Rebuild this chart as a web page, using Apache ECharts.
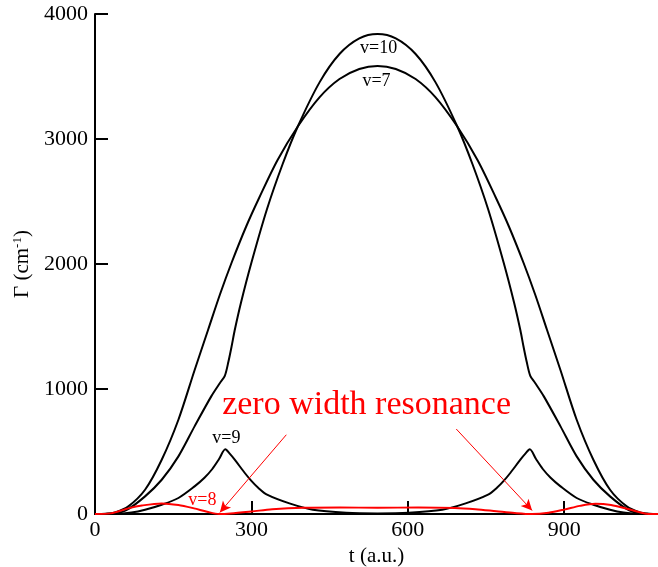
<!DOCTYPE html>
<html>
<head>
<meta charset="utf-8">
<script src="https://cdn.jsdelivr.net/npm/echarts@6/dist/echarts.min.js"></script>
<style>
html,body{margin:0;padding:0;background:#fff;}
#chart{width:658px;height:567px;}
</style>
</head>
<body>
<div id="chart"></div>
<script>
// ---- data: [t (a.u.), Gamma (cm-1)] ----
const xTicks = [0, 300, 600, 900];
const yTicks = [0, 1000, 2000, 3000, 4000];

const v7 = [[0,0],[20,2],[40,15],[64,61],[96,194],[128,434],[160,754],[191,1150],[217,1474],[240,1760],[262,2010],[290,2300],[315,2530],[350,2830],[389,3100],[431,3335],[469,3480],[507,3560],[542,3585],
  [577,3560],[615,3480],[653,3335],[695,3100],[734,2830],[769,2530],[794,2300],[822,2010],[844,1760],[867,1474],[893,1150],[924,754],[956,434],[988,194],[1020,61],[1044,15],[1064,2],[1080,0]];

const v10 = [[0,0],[20,1],[38,4],[60,30],[96,141],[128,274],[160,461],[191,701],[223,941],[240,1050],[249,1105],[256,1220],[262,1340],[268,1470],[280,1690],[300,2010],[330,2440],[360,2800],[389,3100],[431,3455],[469,3680],[507,3805],[542,3840],
  [577,3805],[615,3680],[653,3455],[695,3100],[724,2800],[754,2440],[784,2010],[804,1690],[816,1470],[822,1340],[828,1220],[835,1105],[844,1050],[861,941],[893,701],[924,461],[956,274],[988,141],[1024,30],[1046,4],[1064,1],[1080,0]];

const v9 = [[0,0],[38,1],[70,12],[96,34],[128,74],[160,128],[191,221],[210,290],[225,360],[238,440],[250,518],[258,485],[268,435],[287,330],[300,265],[313,210],[330,155],[373,85],[418,34],[482,10],[542,5],
  [602,10],[666,34],[711,85],[754,155],[771,210],[784,265],[797,330],[816,435],[826,485],[834,518],[846,440],[859,360],[874,290],[893,221],[924,128],[956,74],[988,34],[1014,12],[1046,1],[1080,0]];

const v8 = [[0,0],[30,5],[64,45],[90,68],[128,85],[160,72],[190,45],[215,18],[238,0],[260,4],[300,20],[340,38],[400,50],[470,52],[542,50],[620,52],[690,48],[730,38],[770,22],[805,8],[838,0],[870,10],[900,35],[930,65],[960,82],[990,72],[1020,42],[1045,14],[1062,0],[1080,0]];

const FONT = 'Liberation Serif';
const chart = echarts.init(document.getElementById('chart'), null, {renderer:'canvas'});

function curve(name, data, color){
  return {
    name, type:'line', data, showSymbol:false, symbol:'none',
    smooth:0.3,
    lineStyle:{color, width:2}, z:3
  };
}

const option = {
  animation:false,
  backgroundColor:'#fff',
  grid:{left:95, right:0, top:14, bottom:53, containLabel:false, outerBoundsMode:'none'},
  xAxis:[{
    type:'value', min:0, max:1080, interval:300,
    axisLine:{show:true, onZero:false, lineStyle:{color:'#000', width:2}},
    axisTick:{show:true, inside:true, length:13, lineStyle:{color:'#000', width:2}},
    axisLabel:{color:'#000', fontFamily:FONT, fontSize:22, margin:5, showMaxLabel:false,
      formatter:v => xTicks.includes(v) ? String(v) : ''},
    splitLine:{show:false},
    name:'t (a.u.)', nameLocation:'middle', nameGap:27,
    nameTextStyle:{color:'#000', fontFamily:FONT, fontSize:21}
  },{
    type:'value', position:'top', min:0, max:1080,
    axisLine:{show:true, lineStyle:{color:'#000', width:2}},
    axisTick:{show:false}, axisLabel:{show:false}, splitLine:{show:false}
  }],
  yAxis:{
    type:'value', min:0, max:4000, interval:1000,
    axisLine:{show:true, lineStyle:{color:'#000', width:2}},
    axisTick:{show:true, inside:true, length:13, lineStyle:{color:'#000', width:2}},
    axisLabel:{color:'#000', fontFamily:FONT, fontSize:22, margin:7,
      formatter:v => yTicks.includes(v) ? String(v) : ''},
    splitLine:{show:false},
    name:'{a|Γ (cm}{s|-1}{a|)}', nameLocation:'middle', nameGap:61,
    nameTextStyle:{color:'#000', fontFamily:FONT, fontSize:21,
      rich:{
        a:{fontFamily:FONT, fontSize:21, color:'#000', lineHeight:24},
        s:{fontFamily:FONT, fontSize:13, color:'#000', padding:[0,0,9,0], lineHeight:24}
      }}
  },
  series:[
    curve('v=7', v7, '#000'),
    curve('v=10', v10, '#000'),
    curve('v=9', v9, '#000'),
    Object.assign(curve('v=8', v8, '#ff0000'), {
      markPoint:{
        symbol:'circle', symbolSize:0, silent:true,
        label:{show:true, position:'inside', fontFamily:FONT},
        data:[
          {coord:[544,3722], value:'v=10', label:{formatter:'v=10', color:'#000', fontSize:18}},
          {coord:[540,3458], value:'v=7', label:{formatter:'v=7', color:'#000', fontSize:18}},
          {coord:[252,602], value:'v=9', label:{formatter:'v=9', color:'#000', fontSize:18}},
          {coord:[206,106], value:'v=8', label:{formatter:'v=8', color:'#ff0000', fontSize:18}},
          {coord:[521,874], value:'zero width resonance', label:{formatter:'zero width resonance', color:'#ff0000', fontSize:34}}
        ]
      },
      markLine:{
        silent:true, symbol:['none','arrow'], symbolSize:[8,11],
        label:{show:false},
        lineStyle:{color:'#ff0000', width:1, type:'solid'},
        data:[
          [{coord:[367,634]},{coord:[239.5,13]}],
          [{coord:[693,680]},{coord:[838.5,29]}]
        ]
      }
    })
  ]
};
chart.setOption(option);
</script>
</body>
</html>
